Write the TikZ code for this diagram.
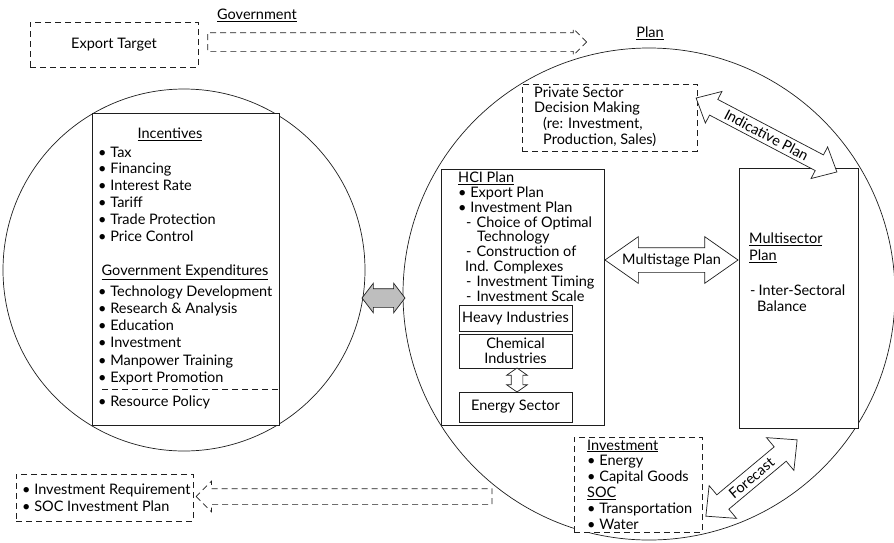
\documentclass[tikz,border=0pt]{standalone}
\usepackage{fontspec}
\setmainfont{Lato}
\usepackage{tikz}
\usetikzlibrary{shapes.arrows,positioning}
\definecolor{figureline}{RGB}{30,30,30}
\definecolor{arrowgrey}{RGB}{190,190,190}

\begin{document}
\begin{tikzpicture}[
    x=1pt, y=-1pt,
    font=\fontsize{14.5}{17}\selectfont,
    frame/.style={draw=figureline, line width=0.7pt, inner sep=0pt},
    dframe/.style={frame, dash pattern=on 6pt off 4pt},
    txt/.style={inner sep=0pt, align=left, anchor=north west},
    lbl/.style={inner sep=0pt},
    blockarrow/.style={draw=figureline, line width=0.7pt, fill=white, inner xsep=0pt, minimum width=1pt}
  ]
    \useasboundingbox (0,0) rectangle (894,542);
    % government side
    \node[lbl] (govlabel) at (257,15) {\underline{Government}};
    \node[dframe, minimum width=168pt, minimum height=45pt] (target) at (114,44.5) {Export Target};
    \node[frame, circle, minimum size=362pt] (govt) at (184,270) {};
    \node[frame, fill=white, minimum width=187pt, minimum height=312pt] (polbox) at (185.5,269) {};
    \node[lbl] (inctitle) at (170,134) {\underline{Incentives}};
    \node[txt, font=\fontsize{14.5}{16.8}\selectfont] (inclist) at (98,146.5)
      {\textbullet~Tax\\\textbullet~Financing\\\textbullet~Interest Rate\\\textbullet~Tariff\\\textbullet~Trade Protection\\\textbullet~Price Control};
    \node[lbl] (exptitle) at (185,272) {\underline{Government Expenditures}};
    \node[txt, font=\fontsize{14.5}{17.2}\selectfont] (explist) at (98,285.5)
      {\textbullet~Technology Development\\\textbullet~Research \& Analysis\\\textbullet~Education\\\textbullet~Investment\\\textbullet~Manpower Training\\\textbullet~Export Promotion};
    \coordinate (sepl) at (102,389);
    \draw[dframe] (sepl) -- (sepl -| polbox.east);
    \node[txt] (resource) at (98,395.5) {\textbullet~Resource Policy};
    \node[dframe, minimum width=177pt, minimum height=47pt] (req) at (104.5,497.5) {};
    \node[txt] (reqtext) at (22,483.5) {\textbullet~Investment Requirement\\\textbullet~SOC Investment Plan};

    % plan side
    \node[lbl] (planlabel) at (650,33) {\underline{Plan}};
    \node[frame, circle, minimum size=492pt] (plan) at (649,294) {};
    \node[dframe, fill=white, minimum width=175pt, minimum height=67pt] (private) at (609.5,117.5) {};
    \node[txt, font=\fontsize{14.5}{15.7}\selectfont] (privtext) at (534,86.5)
      {Private Sector\\Decision Making\\\hspace*{9pt}(re: Investment,\\\hspace*{9pt}Production, Sales)};
    \node[frame, fill=white, minimum width=163pt, minimum height=256pt] (hci) at (522.5,297) {};
    \node[txt, font=\fontsize{14.5}{14.9}\selectfont] (hcitext) at (458,171.5)
      {\underline{HCI Plan}\\\textbullet~Export Plan\\\textbullet~Investment Plan\\
       \hspace*{8pt}-\hspace*{5pt}Choice of Optimal\\\hspace*{19pt}Technology\\
       \hspace*{8pt}-\hspace*{5pt}Construction of\\\hspace*{7pt}Ind. Complexes\\
       \hspace*{8pt}-\hspace*{5pt}Investment Timing\\\hspace*{8pt}-\hspace*{5pt}Investment Scale};
    \node[frame, minimum width=113pt, minimum height=26pt] (heavy) at (515.5,318) {Heavy Industries};
    \node[frame, align=center, minimum width=113pt, minimum height=34pt, font=\fontsize{14.5}{15}\selectfont] (chem) at (515.5,351) {Chemical\\Industries};
    \node[frame, minimum width=113pt, minimum height=30pt] (energy) at (515.5,407) {Energy Sector};
    \node[blockarrow, double arrow, rotate=90, minimum height=24pt, inner ysep=5.5pt,
      double arrow head extend=4.5pt, double arrow tip angle=110] (chemarrow) at (517,380) {};
    \node[frame, fill=white, minimum width=119pt, minimum height=260pt] (multi) at (798.5,298) {};
    \node[txt] (multitext) at (749,232.5) {\underline{Multisector}\\\underline{Plan}};
    \node[txt, font=\fontsize{14.5}{16}\selectfont] (baltext) at (750,284.5) {-\hspace*{3pt}Inter-Sectoral\\\hspace*{7pt}Balance};
    \node[dframe, fill=white, minimum width=128pt, minimum height=95pt] (invest) at (638,484.5) {};
    \node[txt, font=\fontsize{14.5}{15.8}\selectfont] (investtext) at (587,439.5)
      {\underline{Investment}\\\textbullet~Energy\\\textbullet~Capital Goods\\\underline{SOC}\\\textbullet~Transportation\\\textbullet~Water};

    % block arrows
    \node[blockarrow, dframe, fill=none, single arrow, minimum height=379pt, inner ysep=9pt,
      single arrow head extend=4pt] (exparrow) at (392.5,42) {};
    \node[blockarrow, dframe, fill=none, single arrow, shape border rotate=180, minimum height=296pt,
      inner ysep=7.5pt, single arrow head extend=7.5pt] (reqarrow) at (348,496.5) {};
    \node[blockarrow, fill=arrowgrey, double arrow, minimum height=43pt, inner ysep=9pt,
      double arrow head extend=5.5pt, double arrow tip angle=105] (linkarrow) at (383.5,298) {};
    \node[blockarrow, double arrow, minimum height=133pt, inner ysep=12pt,
      double arrow head extend=11pt, double arrow tip angle=70] (msarrow) at (671.5,260) {};
    \node[lbl] at (msarrow.center) {Multistage Plan};
    \node[blockarrow, double arrow, rotate=-27.7, minimum height=159pt, inner ysep=8.5pt,
      double arrow head extend=9pt, double arrow tip angle=84] (indarrow) at (766.5,135) {};
    \node[lbl, rotate=-27.7] at (indarrow.center) {Indicative Plan};
    \node[blockarrow, double arrow, rotate=39.9, minimum height=119pt, inner ysep=9pt,
      double arrow head extend=12pt, double arrow tip angle=88] (fcarrow) at (751.5,478) {};
    \node[lbl, rotate=39.9] at (fcarrow.center) {Forecast};
  \end{tikzpicture}
\end{document}
